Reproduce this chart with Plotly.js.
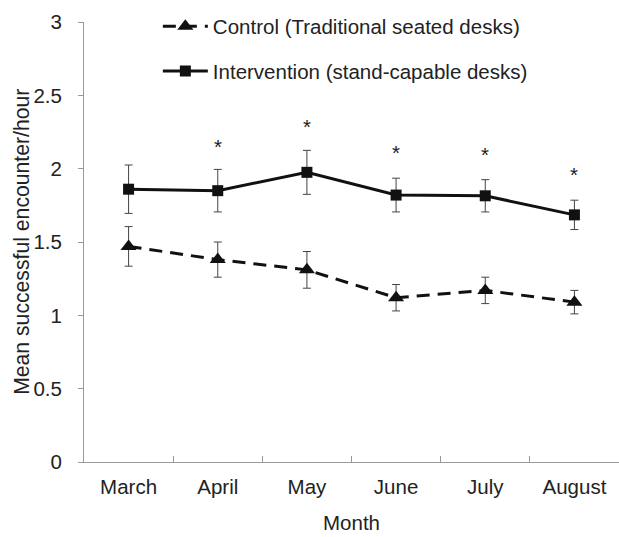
<!DOCTYPE html>
<html>
<head>
<meta charset="utf-8">
<script src="https://cdn.plot.ly/plotly-3.0.1.min.js"></script>
<style>html,body{margin:0;padding:0;background:#fff;}#chart{width:619px;height:537px;}</style>
</head>
<body>
<div id="chart"></div>
<script>
var months = ["March", "April", "May", "June", "July", "August"];
var controlMean = [1.47, 1.38, 1.31, 1.12, 1.17, 1.09];
var controlErr = [0.135, 0.12, 0.125, 0.09, 0.09, 0.08];
var interventionMean = [1.86, 1.85, 1.975, 1.82, 1.815, 1.685];
var interventionErr = [0.165, 0.145, 0.15, 0.115, 0.11, 0.10];
var starMonths = ["April", "May", "June", "July", "August"];
var starY = [2.168, 2.298, 2.127, 2.107, 1.977];
var yTitle = "Mean successful encounter/hour";

var FONT = "Liberation Sans, Arial, sans-serif";
var FS = 20.5;

var control = {
  x: months, y: controlMean, type: "scatter", mode: "lines+markers",
  name: "Control (Traditional seated desks)", legendgroup: "a",
  line: {color: "#111", width: 3, dash: "13px,8px"},
  marker: {symbol: "triangle-up", size: 14, color: "#111"},
  error_y: {type: "data", array: controlErr, visible: true, color: "#444", thickness: 1, width: 4}
};
var intervention = {
  x: months, y: interventionMean, type: "scatter", mode: "lines+markers",
  name: "Intervention (stand-capable desks)", legendgroup: "b",
  line: {color: "#111", width: 3},
  marker: {symbol: "square", size: 11, color: "#111"},
  error_y: {type: "data", array: interventionErr, visible: true, color: "#444", thickness: 1, width: 4}
};

var annotations = starMonths.map(function (m, i) {
  return {x: m, y: starY[i], xref: "x", yref: "y", text: "*", showarrow: false,
          yanchor: "middle", yshift: -2, font: {family: FONT, size: FS, color: "#222"}};
});
annotations.push({
  xref: "paper", yref: "paper", x: -0.118, y: 0.5, xanchor: "center", yanchor: "middle",
  text: yTitle, textangle: -90, showarrow: false,
  font: {family: FONT, size: 21.2, color: "#222"}
});

var layout = {
  width: 619, height: 537,
  margin: {l: 84, r: 0, t: 22, b: 75, autoexpand: false},
  paper_bgcolor: "#fff", plot_bgcolor: "#fff",
  font: {family: FONT, size: FS, color: "#222"},
  showlegend: true,
  legend: {
    xref: "container", yref: "container", x: 0.255, y: 0.988, xanchor: "left", yanchor: "top",
    bgcolor: "rgba(0,0,0,0)", tracegroupgap: 15, itemwidth: 45,
    font: {family: FONT, size: FS, color: "#222"},
    traceorder: "grouped"
  },
  xaxis: {
    type: "category", range: [-0.5, 5.5], showgrid: false, zeroline: false,
    showline: true, linecolor: "#999", linewidth: 1,
    ticks: "inside", tickson: "boundaries", ticklen: 6, tickcolor: "#999",
    ticklabelstandoff: 6, tickangle: 0,
    title: {text: "Month", standoff: 19, font: {family: FONT, size: FS, color: "#222"}}
  },
  yaxis: {
    range: [0, 3], dtick: 0.5, showgrid: false, zeroline: false,
    showline: true, linecolor: "#999", linewidth: 1,
    ticks: "outside", ticklen: 5, tickcolor: "#999", ticklabelstandoff: 12
  },
  annotations: annotations
};

Plotly.newPlot("chart", [control, intervention], layout, {displayModeBar: false, staticPlot: true});
</script>
</body>
</html>
